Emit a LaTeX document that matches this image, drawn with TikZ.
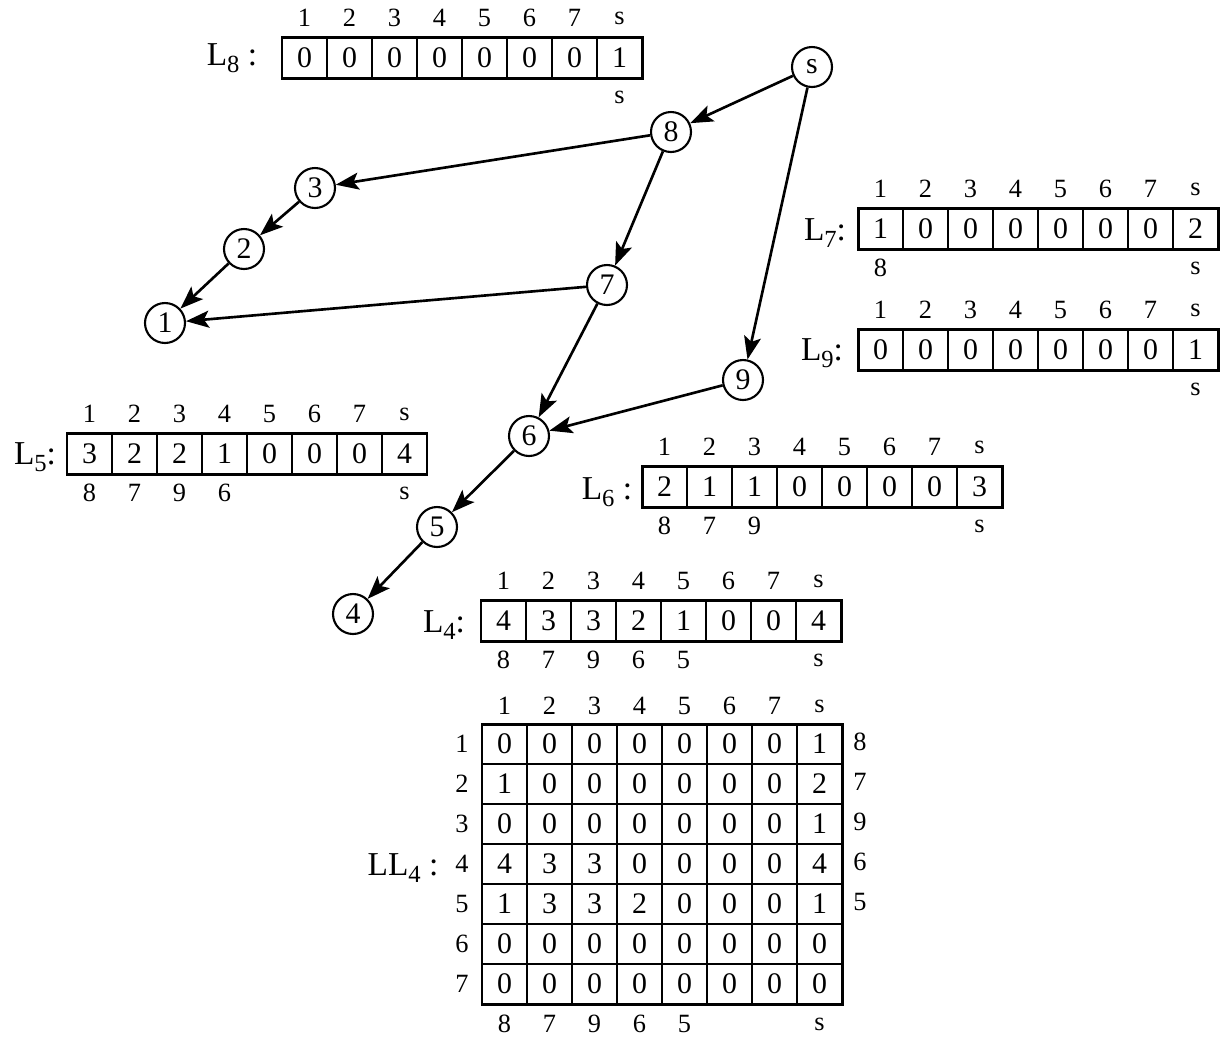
\documentclass[tikz,border=0pt]{standalone}
\usepackage{fontspec}
\setmainfont{Liberation Serif}
\usetikzlibrary{arrows.meta}

% one row of eight cells: name, left x, top y, value/below pairs
\newcommand{\larray}[4]{%
  \foreach \v/\b [count=\i] in {#4} {
    \node[cell] (#1\i) at ({#2+45*\i-22.5},{#3+20.5}) {\v};
    \node[idx] at ({#2+45*\i-22.5},{#3-19}) {\ifnum\i=8 s\else\i\fi};
    \node[idx] at ({#2+45*\i-22.5},{#3+60}) {\b};
  }
  \draw[frame] (#2,#3) rectangle ++(360,41);
}
\newcommand{\lsub}[1]{\raisebox{-0.45ex}{\fontsize{14}{14}\selectfont #1}}

\begin{document}
\begin{tikzpicture}[x=0.02cm,y=-0.02cm,
  v/.style={circle,draw,line width=1.2pt,minimum size=0.8cm,inner sep=0pt,font=\fontsize{17}{17}\selectfont},
  edge/.style={-{Stealth[length=4.6mm,width=3.4mm,inset=1mm]},line width=1.5pt},
  cell/.style={draw,line width=1pt,minimum width=0.9cm,minimum height=0.82cm,inner sep=0pt,font=\fontsize{17}{17}\selectfont},
  frame/.style={line width=1.7pt},
  idx/.style={inner sep=0pt,font=\fontsize{15}{15}\selectfont},
  lab/.style={inner sep=0pt,font=\fontsize{19}{19}\selectfont}]
\useasboundingbox (0,0) rectangle (1224,1039);

% the graph
\node[v] (s) at (812,67) {s};
\node[v] (8) at (671,132) {8};
\node[v] (3) at (315,188) {3};
\node[v] (2) at (244,249) {2};
\node[v] (1) at (165,323) {1};
\node[v] (7) at (607,285) {7};
\node[v] (9) at (743,380) {9};
\node[v] (6) at (529,436) {6};
\node[v] (5) at (437,527) {5};
\node[v] (4) at (353,614) {4};
\draw[edge] (s) -- (8);
\draw[edge] (s) -- (9);
\draw[edge] (8) -- (3);
\draw[edge] (8) -- (7);
\draw[edge] (3) -- (2);
\draw[edge] (2) -- (1);
\draw[edge] (7) -- (1);
\draw[edge] (7) -- (6);
\draw[edge] (9) -- (6);
\draw[edge] (6) -- (5);
\draw[edge] (5) -- (4);

% the lists
\node[lab] (l8) at (232,58) {L\lsub{8} :};
\larray{a}{282}{37}{0/{},0/{},0/{},0/{},0/{},0/{},0/{},1/s}
\node[lab] (l7) at (825,233) {L\lsub{7}:};
\larray{b}{858}{208}{1/8,0/{},0/{},0/{},0/{},0/{},0/{},2/s}
\node[lab] (l9) at (822,353) {L\lsub{9}:};
\larray{c}{858}{329}{0/{},0/{},0/{},0/{},0/{},0/{},0/{},1/s}
\node[lab] (l5) at (35,457) {L\lsub{5}:};
\larray{d}{67}{433}{3/8,2/7,2/9,1/6,0/{},0/{},0/{},4/s}
\node[lab] (l6) at (607,492) {L\lsub{6} :};
\larray{e}{642}{466}{2/8,1/7,1/9,0/{},0/{},0/{},0/{},3/s}
\node[lab] (l4) at (444,625) {L\lsub{4}:};
\larray{f}{481}{600}{4/8,3/7,3/9,2/6,1/5,0/{},0/{},4/s}

% the table LL4
\node[lab] (ll4) at (403,868) {LL\lsub{4} :};
\foreach \t [count=\i] in {1,2,3,4,5,6,7,s} {
  \node[idx] at ({482+45*\i-22.5},706) {\t};
}
\foreach \t [count=\i] in {8,7,9,6,5,{},{},s} {
  \node[idx] at ({482+45*\i-22.5},1024) {\t};
}
\foreach \vals/\side [count=\r] in {{0,0,0,0,0,0,0,1}/8,{1,0,0,0,0,0,0,2}/7,
    {0,0,0,0,0,0,0,1}/9,{4,3,3,0,0,0,0,4}/6,{1,3,3,2,0,0,0,1}/5,
    {0,0,0,0,0,0,0,0}/{},{0,0,0,0,0,0,0,0}/{}} {
  \foreach \v [count=\c] in \vals {
    \node[cell] (m\r\c) at ({482+45*\c-22.5},{724+40*\r-20}) {\v};
  }
  \node[idx] at (462,{724+40*\r-20}) {\r};
  \node[idx] at (860,{724+40*\r-22}) {\side};
}
\draw[frame] (482,724) rectangle (842,1004);
\end{tikzpicture}
\end{document}
